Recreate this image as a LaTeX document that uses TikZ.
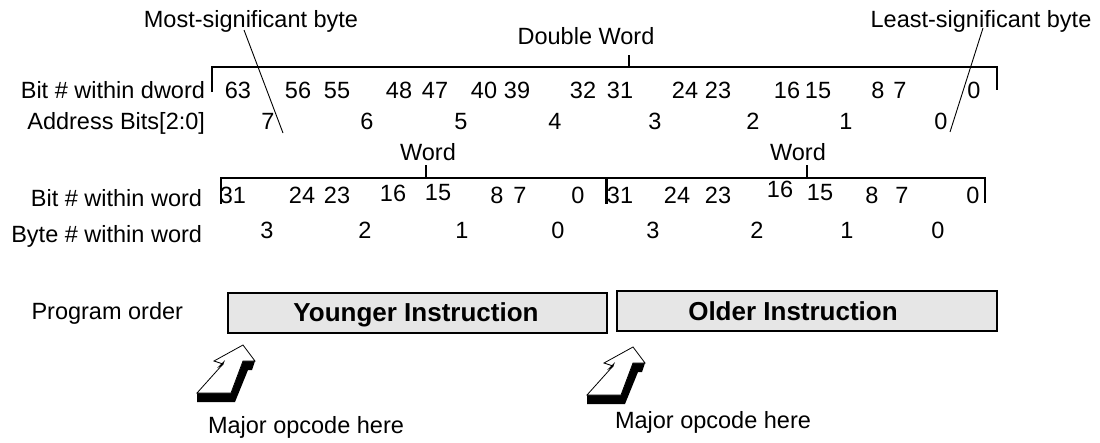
\documentclass[tikz,border=0pt]{standalone}
\usepackage{fontspec}
\setmainfont{Liberation Sans}
\definecolor{boxgray}{RGB}{230,230,230}
\begin{document}
\begin{tikzpicture}[x=1pt,y=-1pt,
  every node/.style={font=\fontsize{23.5}{27}\selectfont, inner sep=0pt, outer sep=0pt},
  lbl/.style={anchor=base east},
  num/.style={anchor=base},
  brk/.style={line width=2pt},
  ptr/.style={line width=0.9pt},
  instbox/.style={draw, line width=2.4pt, fill=boxgray},
  boldtxt/.style={anchor=base, font=\fontsize{26}{30}\selectfont\bfseries},
  opcodearrow/.pic={
    \fill[black] (197,393) -- (231,393) -- (243,361) -- (255,361) -- (252,370)
      -- (248,370) -- (235,402) -- (197,402) -- cycle;
    \draw[fill=white, line width=0.8pt, line join=miter] (243,345) -- (255,361)
      -- (243,361) -- (231,393) -- (197,393) -- (223,364) -- (214,361) -- cycle;
    \fill[black] (217,368) -- (225,360) -- (223,365) -- cycle;
  }]
\useasboundingbox (0,0) rectangle (1100,442);

% top labels
\node[anchor=base] (msb) at (251,27) {Most-significant byte};
\node[anchor=base] (dwlbl) at (586,44) {Double Word};
\node[anchor=base] (lsb) at (981,27) {Least-significant byte};

% double word bracket
\draw[brk] (212,92) -- (212,67) -- (997,67) -- (997,90);
\draw[brk] (629,55) -- (629,67);

% row labels
\node[lbl] (rowdw) at (205,98) {Bit \# within dword};
\node[lbl] (rowaddr) at (205,129) {Address Bits[2:0]};
\node[lbl] (rowbw) at (202,206) {Bit \# within word};
\node[lbl] (rowbyte) at (202,242) {Byte \# within word};
\node[lbl] (rowprog) at (183,319) {Program order};

% dword bit numbers
\foreach \x/\t in {238/63, 298/56, 337/55, 399/48, 435/47, 484/40, 517/39, 583/32,
                   620/31, 685/24, 718/23, 787/16, 818/15, 878/8, 900/7, 974/0}
  \node[num] (d\t) at (\x,98) {\t};

% address bits
\foreach \x/\t in {268/7, 367/6, 461/5, 555/4, 655/3, 753/2, 846/1, 941/0}
  \node[num] (a\t) at (\x,129) {\t};

% pointer lines
\coordinate (msbstart) at (244,30);
\coordinate (msbend) at (283,133);
\coordinate (lsbstart) at (983,28);
\coordinate (lsbend) at (950,132);
\draw[ptr] (msbstart) -- (msbend);
\draw[ptr] (lsbstart) -- (lsbend);

% word labels and brackets
\node[anchor=base] (wordA) at (428,160) {Word};
\node[anchor=base] (wordB) at (798,160) {Word};
\draw[brk] (221,204) -- (221,178) -- (985,178) -- (985,203);
\draw[brk] (426,165) -- (426,178);
\draw[brk] (807,165) -- (807,178);
\draw[line width=3pt] (606,178) -- (606,204);

% word bit numbers
\foreach \x/\y/\t in {233/203/31, 302/203/24, 337/203/23, 393/201/16, 438/200/15,
                      497/203/8, 520/203/7, 578/203/0}
  \node[num] (wa\t) at (\x,\y) {\t};
\foreach \x/\y/\t in {620/203/31, 677/203/24, 718/203/23, 780/197/16, 820/200/15,
                      872/203/8, 902/203/7, 973/203/0}
  \node[num] (wb\t) at (\x,\y) {\t};

% byte numbers
\foreach \x/\t in {267/3, 365/2, 462/1, 558/0}
  \node[num] (ba\t) at (\x,238) {\t};
\foreach \x/\t in {653/3, 757/2, 847/1, 938/0}
  \node[num] (bb\t) at (\x,238) {\t};

% instruction boxes
\node[instbox, minimum width=379pt, minimum height=40pt] (young) at (417.5,313) {};
\node[instbox, minimum width=380pt, minimum height=40pt] (old) at (807,311) {};
\node[boldtxt] (youngtxt) at (416,321) {Younger Instruction};
\node[boldtxt] (oldtxt) at (793,320) {Older Instruction};

% opcode arrows
\pic at (0,0) {opcodearrow};
\pic at (390,2) {opcodearrow};
\node[anchor=base west] (op1) at (208,433) {Major opcode here};
\node[anchor=base west] (op2) at (615,428) {Major opcode here};
\end{tikzpicture}
\end{document}
